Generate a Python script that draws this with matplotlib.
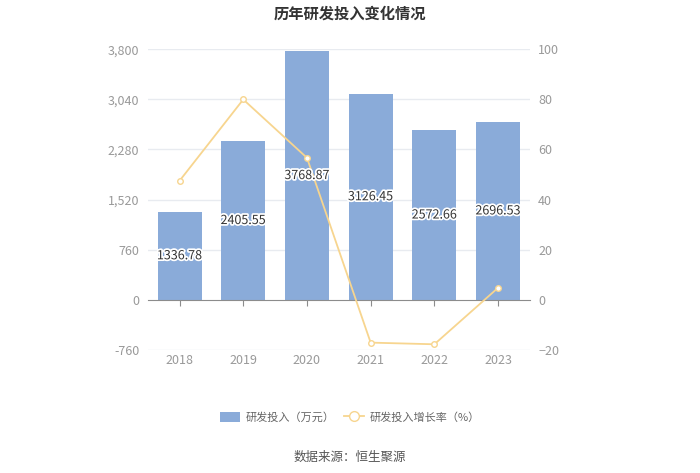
import matplotlib.pyplot as plt
import matplotlib.transforms as mtransforms
import matplotlib.patheffects as pe
from matplotlib.patches import Patch
from matplotlib.lines import Line2D

plt.rcParams['font.family'] = ['Noto Sans CJK SC', 'DejaVu Sans']

# Данные
years = ["2018", "2019", "2020", "2021", "2022", "2023"]
rd_invest = [1336.78, 2405.55, 3768.87, 3126.45, 2572.66, 2696.53]
rd_growth = [47.5, 79.95, 56.67, -17.05, -17.71, 4.81]
left_ticks = [-760, 0, 760, 1520, 2280, 3040, 3800]
right_ticks = [-20, 0, 20, 40, 60, 80, 100]

bar_color = "#8aabd9"
line_color = "#f7d58f"
tick_color = "#999999"
grid_color = "#e8ebf0"

fig = plt.figure(figsize=(7, 4.73), dpi=100)
ax = fig.add_axes([0.211, 0.26, 0.546, 0.636])
x = list(range(len(years)))

ax.bar(x, rd_invest, width=0.69, color=bar_color, zorder=2)
ax.set_ylim(left_ticks[0], left_ticks[-1])
ax.set_xlim(-0.5, len(years) - 0.5)
ax.set_yticks(left_ticks)
ax.set_yticklabels([f"{v:,}" for v in left_ticks])
for v in left_ticks:
    if v != 0:
        ax.axhline(v, color=grid_color, lw=1, zorder=0)

for s in ["top", "right", "left"]:
    ax.spines[s].set_visible(False)
ax.spines["bottom"].set_position(("data", 0))
ax.spines["bottom"].set_color("#8c8c8c")
ax.spines["bottom"].set_zorder(3)
ax.set_xticks(x)
ax.tick_params(axis="x", length=4, color="#8c8c8c", labelbottom=False)
ax.tick_params(axis="y", length=0, labelsize=9, labelcolor=tick_color, pad=6)

trans = mtransforms.blended_transform_factory(ax.transData, ax.transAxes)
for i, yr in enumerate(years):
    ax.text(i, -0.035, yr, transform=trans, ha="center", va="center",
            fontsize=9, color=tick_color)

ax2 = ax.twinx()
ax2.plot(x, rd_growth, color=line_color, lw=1.3, marker="o", markersize=4,
         markerfacecolor="white", markeredgecolor=line_color, zorder=4)
ax2.set_ylim(right_ticks[0], right_ticks[-1])
ax2.set_yticks(right_ticks)
for s in ["top", "right", "left", "bottom"]:
    ax2.spines[s].set_visible(False)
ax2.tick_params(axis="y", length=0, labelsize=9, labelcolor=tick_color, pad=6)
ax2.set_zorder(ax.get_zorder() + 1)
ax2.patch.set_visible(False)

# Подписи значений поверх линии
for i, v in enumerate(rd_invest):
    ax2.annotate(f"{v:.2f}", xy=(i, v / 2), xycoords=ax.transData,
                 ha="center", va="center", fontsize=9, color="#333333", zorder=6,
                 path_effects=[pe.withStroke(linewidth=2.5, foreground="white")])

fig.text(0.5, 0.972, "历年研发投入变化情况", ha="center", va="center",
         fontsize=11, fontweight="bold", color="#333333")

# Легенда
handles = [
    Patch(facecolor=bar_color, edgecolor="none", label="研发投入（万元）"),
    Line2D([0], [0], color=line_color, lw=1.3, marker="o", markersize=7,
           markerfacecolor="white", markeredgecolor=line_color,
           label="研发投入增长率（%）"),
]
fig.legend(handles=handles, loc="center", bbox_to_anchor=(0.5, 0.118), ncol=2,
           frameon=False, fontsize=8, labelcolor="#666666", handlelength=1.8,
           handleheight=1.0, columnspacing=0.9, handletextpad=0.5)

fig.text(0.5, 0.034, "数据来源：恒生聚源", ha="center", va="center",
         fontsize=9, color="#555555")

fig.savefig("out.png", dpi=100)
